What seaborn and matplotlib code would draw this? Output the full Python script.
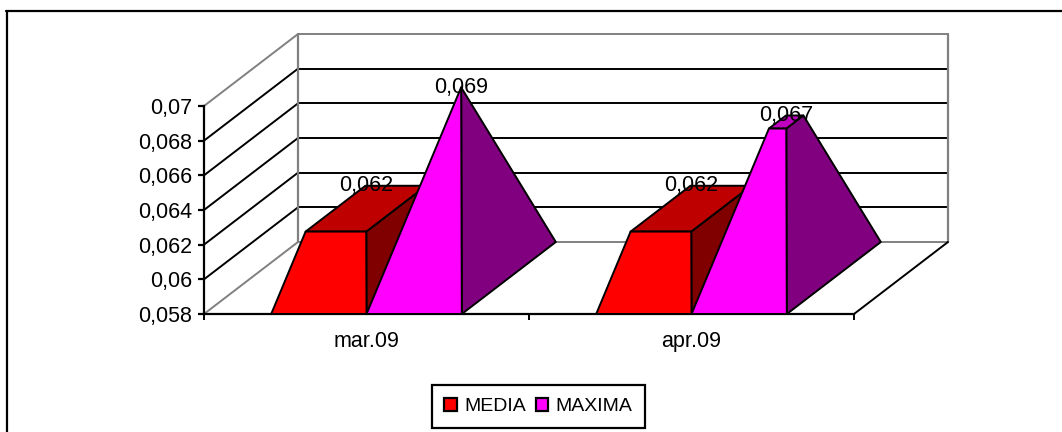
import pandas as pd
import seaborn as sns
import matplotlib.pyplot as plt
from matplotlib.lines import Line2D

meses = ["mar.09", "apr.09"]
media = [0.062, 0.062]
maxima = [0.069, 0.067]
etiquetas_media = ["0,062", "0,062"]
etiquetas_maxima = ["0,069", "0,067"]
ticks_y = [0.058, 0.06, 0.062, 0.064, 0.066, 0.068, 0.07]
etiquetas_y = ["0,058", "0,06", "0,062", "0,064", "0,066", "0,068", "0,07"]

tabla = pd.DataFrame({
    "mes": meses * 2,
    "valor": media + maxima,
    "serie": ["MEDIA"] * 2 + ["MAXIMA"] * 2,
})

sns.set_style("white")
plt.rcParams['font.family'] = ['Liberation Sans', 'DejaVu Sans']

fig = plt.figure(figsize=(10.62, 4.32), dpi=100)
ax = fig.add_axes([204 / 1062, 118 / 432, 650 / 1062, 208 / 432])

sns.barplot(data=tabla, x="mes", y="valor", hue="serie", ax=ax, width=0.5865, gap=0,
            palette={"MEDIA": "#FF0000", "MAXIMA": "#FF00FF"},
            edgecolor="black", linewidth=1.6, saturation=1, errorbar=None)
ax.set_xlim(-0.5, 1.5)
ax.set_ylim(0.058, 0.07)
ax.set_xlabel("")
ax.set_ylabel("")

# profundidad del falso 3D, en unidades de los ejes
dx = 94 / 325
dy = 72 / (208 / 0.012)
base = 0.058
cima = max(maxima)

# paredes
gris = "#808080"
for t in ticks_y:
    c = gris if t in (ticks_y[0], ticks_y[-1]) else "black"
    ax.plot([-0.5, -0.5 + dx], [t, t + dy], color=c, lw=1.4, clip_on=False, zorder=1)
    ax.plot([-0.5 + dx, 1.5 + dx], [t + dy, t + dy], color=c, lw=1.4, clip_on=False, zorder=1)
for x in (-0.5 + dx, 1.5 + dx):
    ax.plot([x, x], [base + dy, 0.07 + dy], color=gris, lw=1.6, clip_on=False, zorder=1)
ax.plot([1.5, 1.5 + dx], [base, base + dy], color="black", lw=1.4, clip_on=False, zorder=1)


def piramide(barra, frente, lado, tapa):
    x0 = barra.get_x()
    ancho = barra.get_width()
    v = barra.get_height()
    k = (v - base) / (cima - base)
    sube = v - base

    def esquina(fx, fz):
        # fx, fz: posicion en la base; se encoge hacia el centro segun k
        px = fx + (0.5 - fx) * k
        pz = fz + (0.5 - fz) * k
        return x0 + px * ancho + pz * dx, base + pz * dy + sube

    fl, fr = (x0, base), (x0 + ancho, base)
    br = (x0 + ancho + dx, base + dy)
    tfl, tfr, tbr, tbl = esquina(0, 0), esquina(1, 0), esquina(1, 1), esquina(0, 1)
    for puntos, color in (([fr, br, tbr, tfr], lado),
                          ([tfl, tfr, tbr, tbl], tapa),
                          ([fl, fr, tfr, tfl], frente)):
        xs, ys = zip(*puntos)
        ax.fill(xs, ys, facecolor=color, edgecolor="black", lw=1.4,
                joinstyle="round", clip_on=False, zorder=3)
    return x0 + ancho / 2 + dx / 2, tbl[1]


estilos = [("#FF0000", "#800000", "#BF0000"), ("#FF00FF", "#800080", "#BF00BF")]
textos = [etiquetas_media, etiquetas_maxima]
for barras, estilo, etiquetas in zip(ax.containers, estilos, textos):
    for barra, etiqueta in zip(barras, etiquetas):
        barra.set_visible(False)
        x, y = piramide(barra, *estilo)
        ax.text(x, y, etiqueta, ha="center", va="center", fontsize=15.5,
                color="black", clip_on=False, zorder=5)

ax.set_yticks(ticks_y, etiquetas_y)
ax.set_xticks(range(len(meses)), meses)
ax.set_xticks([-0.5, 0.5, 1.5], minor=True)
ax.tick_params(axis="y", labelsize=15.5, length=4, width=1.6, color="black", left=True, pad=4.5, labelcolor="black")
ax.tick_params(axis="x", which="major", labelsize=15.5, length=0, pad=12.5, labelcolor="black")
ax.tick_params(axis="x", which="minor", length=4, width=1.4, color="black", bottom=True)

ax.patch.set_visible(False)
for lado in ("top", "right"):
    ax.spines[lado].set_visible(False)
for lado in ("left", "bottom"):
    ax.spines[lado].set_color("black")
    ax.spines[lado].set_linewidth(1.6)

sns.move_legend(ax, "center", bbox_to_anchor=(538.5 / 1062, 25.5 / 432),
                bbox_transform=fig.transFigure, ncol=2, title=None, fontsize=14,
                labelcolor="black", frameon=True, fancybox=False, framealpha=1, edgecolor="black",
                handlelength=0.62, handleheight=0.62, handletextpad=0.4,
                columnspacing=0.5, borderpad=0.65, borderaxespad=0)
ax.get_legend().get_frame().set_linewidth(1.6)

# marco del area del grafico, cortado por abajo y a la derecha
fig.add_artist(Line2D([7 / 1062, 7 / 1062], [0, 421 / 432], color="black", lw=1.6))
fig.add_artist(Line2D([6 / 1062, 1], [421 / 432, 421 / 432], color="black", lw=1.6))

fig.savefig("out.png", dpi=100)
